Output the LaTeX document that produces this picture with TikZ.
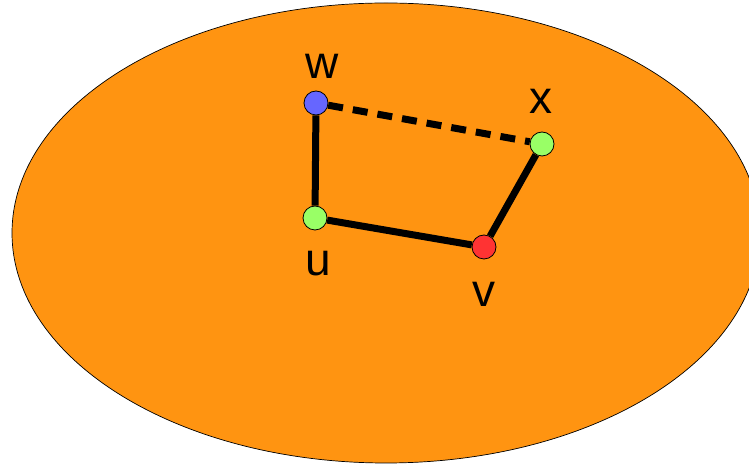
\documentclass[tikz,border=0pt]{standalone}
\usepackage{fontspec}
\setmainfont{Liberation Sans}
\definecolor{bg}{HTML}{FF9411}
\definecolor{vblue}{HTML}{6666FF}
\definecolor{vgreen}{HTML}{99FF66}
\definecolor{vred}{HTML}{FF3333}
\begin{document}
\begin{tikzpicture}[x=1pt,y=1pt,
  vert/.style={circle,draw=black,line width=0.8pt,minimum size=24pt,inner sep=0pt},
  edge/.style={line width=7pt},
  lbl/.style={font=\fontsize{46}{46}\selectfont,inner sep=0pt}]
\useasboundingbox (0,0) rectangle (749,465);
\begin{scope}
\clip (0,0) rectangle (749,465);
\draw[fill=bg,line width=0.7pt] (386,232) ellipse [x radius=374, y radius=230];
\end{scope}
\node[vert,fill=vblue] (w) at (316,362) {};
\node[vert,fill=vgreen] (x) at (542,321) {};
\node[vert,fill=vgreen] (u) at (315,247) {};
\node[vert,fill=vred] (v) at (484,218) {};
\draw[edge] (w) -- (u);
\draw[edge] (u) -- (v);
\draw[edge] (v) -- (x);
\draw[edge,dash pattern=on 15pt off 10pt] (w) -- (x);
\node[lbl] (lw) at (322,399) {w};
\node[lbl] (lx) at (541,364) {x};
\node[lbl] (lu) at (318,201) {u};
\node[lbl] (lv) at (484,171) {v};
\end{tikzpicture}
\end{document}
